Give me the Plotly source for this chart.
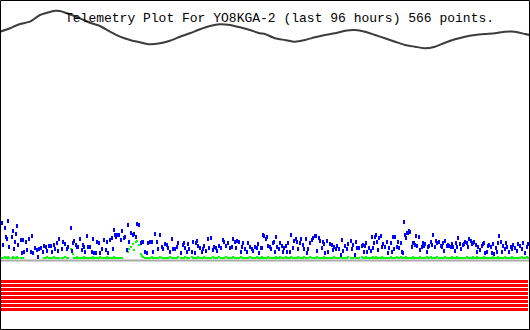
import plotly.graph_objects as go

TITLE = "Telemetry Plot For YO8KGA-2 (last 96 hours) 566 points."

# Time axis position of each packet (plot units) and channel readings
TIMES = [
    2, 3, 5, 6, 7, 8, 9, 12, 13, 14,
    15, 16, 17, 18, 21, 22, 23, 24, 26, 27,
    29, 31, 32, 33, 35, 37, 38, 39, 41, 43,
    44, 46, 47, 49, 51, 52, 54, 55, 57, 58,
    59, 62, 63, 65, 67, 68, 71, 72, 73, 74,
    76, 77, 78, 80, 82, 83, 84, 85, 87, 88,
    90, 92, 93, 94, 96, 97, 99, 100, 102, 104,
    106, 107, 108, 110, 112, 113, 114, 115, 116, 117,
    119, 121, 122, 124, 125, 127, 128, 129, 131, 133,
    134, 136, 137, 139, 141, 142, 143, 145, 147, 148,
    150, 152, 153, 155, 157, 158, 160, 162, 163, 165,
    167, 168, 170, 172, 173, 175, 177, 178, 181, 183,
    184, 185, 187, 188, 189, 192, 193, 195, 196, 197,
    198, 200, 202, 203, 204, 206, 208, 209, 211, 213,
    214, 216, 217, 219, 221, 223, 224, 226, 228, 230,
    232, 233, 235, 236, 237, 239, 241, 242, 243, 245,
    247, 248, 250, 252, 253, 255, 257, 258, 259, 261,
    262, 263, 264, 266, 267, 268, 270, 271, 273, 274,
    275, 276, 277, 279, 280, 282, 283, 284, 286, 287,
    288, 290, 291, 293, 294, 296, 297, 298, 300, 301,
    303, 304, 306, 307, 308, 310, 312, 313, 315, 316,
    317, 319, 320, 322, 323, 324, 325, 327, 328, 330,
    332, 333, 334, 336, 337, 339, 341, 342, 343, 345,
    347, 348, 351, 352, 353, 355, 356, 357, 359, 362,
    363, 364, 365, 366, 367, 369, 371, 372, 373, 374,
    375, 376, 377, 378, 379, 381, 382, 383, 385, 387,
    388, 389, 391, 392, 393, 394, 395, 397, 398, 399,
    401, 402, 403, 404, 405, 406, 407, 408, 409, 410,
    412, 413, 414, 415, 416, 417, 419, 420, 422, 423,
    424, 425, 427, 428, 429, 431, 432, 433, 435, 436,
    437, 439, 441, 442, 443, 444, 445, 447, 448, 449,
    451, 452, 453, 455, 456, 457, 458, 460, 461, 463,
    464, 465, 467, 468, 469, 471, 472, 473, 474, 476,
    477, 478, 480, 482, 483, 484, 485, 487, 488, 489,
    491, 492, 493, 494, 496, 497, 498, 499, 501, 502,
    503, 505, 506, 507, 509, 511, 512, 513, 515, 517,
    518, 520, 522, 523, 525, 527, 528,
]

BLUE = [
    223, 245, 228, 237, 239, 221, 247, 237, 231, 249,
    242, 234, 226, 245, 240, 253, 240, 252, 242, 250,
    239, 252, 236, 253, 248, 250, 257, 249, 248, 252,
    246, 247, 251, 246, 246, 252, 245, 249, 243, 251,
    239, 249, 242, 244, 249, 247, 228, 251, 243, 241,
    245, 247, 247, 239, 250, 245, 247, 252, 236, 247,
    247, 252, 239, 253, 253, 242, 243, 253, 249, 240,
    250, 242, 253, 240, 238, 249, 230, 235, 237, 235,
    235, 240, 231, 238, 237, 250, 225, 242, 233, 235,
    234, 237, 224, 225, 243, 242, 242, 252, 253, 243,
    242, 242, 252, 234, 242, 249, 235, 247, 249, 244,
    245, 248, 252, 239, 249, 249, 247, 243, 253, 245,
    243, 248, 252, 244, 249, 252, 242, 253, 243, 241,
    246, 248, 252, 249, 246, 251, 239, 248, 238, 250,
    247, 248, 251, 246, 248, 240, 242, 246, 243, 248,
    247, 239, 242, 248, 241, 242, 252, 247, 243, 249,
    252, 243, 247, 249, 251, 247, 248, 244, 253, 248,
    248, 235, 236, 239, 237, 246, 247, 249, 243, 242,
    252, 237, 247, 249, 243, 246, 252, 248, 246, 252,
    243, 252, 235, 248, 241, 239, 242, 249, 243, 239,
    245, 249, 239, 253, 249, 243, 240, 238, 236, 236,
    251, 238, 241, 248, 242, 244, 253, 241, 252, 244,
    245, 250, 247, 249, 246, 249, 255, 240, 251, 246,
    249, 244, 241, 249, 245, 255, 242, 248, 248, 246,
    245, 252, 246, 243, 252, 248, 251, 237, 248, 243,
    237, 235, 242, 250, 238, 236, 247, 244, 247, 242,
    253, 248, 243, 252, 237, 249, 237, 247, 242, 248,
    243, 252, 253, 222, 235, 238, 233, 233, 231, 232,
    247, 243, 243, 245, 236, 246, 237, 250, 247, 243,
    246, 244, 252, 247, 246, 242, 245, 235, 247, 241,
    243, 242, 246, 247, 243, 251, 241, 246, 245, 246,
    247, 244, 247, 251, 243, 247, 238, 244, 249, 245,
    244, 242, 243, 247, 239, 241, 244, 243, 242, 245,
    252, 247, 250, 246, 244, 243, 253, 252, 246, 245,
    247, 253, 244, 254, 248, 252, 243, 236, 242, 252,
    246, 249, 243, 247, 252, 247, 249, 245, 248, 251,
    244, 246, 249, 243, 253, 247, 244,
]

N = None
GREEN = [
    258, 258, 257, 258, 258, 257, 258, 258, 257, 258,
    258, 258, 257, 258, 258, 258, 258, N, N, N,
    N, N, N, N, N, N, N, N, N, N,
    258, 258, 257, 258, 258, 258, 257, 258, 258, 258,
    258, 258, 258, 257, 258, 258, 249, 250, 254, 258,
    258, 257, 258, 258, 258, 258, 257, 258, 258, 258,
    258, 258, 257, 258, 258, 258, 258, 257, 258, 258,
    258, 257, 258, 258, 258, 258, 257, 258, 258, 258,
    258, 258, 258, N, N, 251, 252, 249, 247, 244,
    250, 242, 241, 245, 254, 256, 257, 258, 258, 258,
    258, 257, 258, 258, 258, 258, 257, 258, 258, 258,
    258, 258, 257, 258, 258, 258, 258, 257, 258, 258,
    258, 257, 258, 258, 258, 257, 258, 258, 258, 258,
    257, 258, 258, 258, 257, 258, 258, 258, 258, 257,
    258, 258, 258, 257, 258, 258, 258, 257, 258, 258,
    258, 257, 258, 258, 258, 258, 257, 258, 258, 258,
    258, 258, 257, 258, 258, 258, 257, 258, 258, 258,
    257, 258, 258, 258, 258, 257, 258, 258, 258, 258,
    258, 257, 258, 258, 257, 258, 258, 258, 257, 258,
    258, 258, 257, 258, 258, 258, 258, 257, 258, 258,
    258, 257, 258, 258, 258, 257, 258, 258, 258, 258,
    257, 258, 258, 258, 258, 257, 258, 258, 258, 258,
    258, 258, 257, 258, 258, 258, 257, 258, 258, 258,
    258, 257, 258, 258, 258, 257, 258, 258, 258, 257,
    258, 258, 258, 257, 258, 258, 258, 258, 257, 258,
    258, 257, 258, 258, 258, 258, 257, 258, 258, 258,
    258, 258, 257, 258, 258, 258, 258, 257, 258, 258,
    257, 258, 258, 258, 258, 257, 258, 258, 258, 258,
    258, 257, 258, 258, 258, 258, 258, 257, 258, 258,
    258, 258, 257, 258, 258, 257, 258, 258, 258, 258,
    257, 258, 258, 258, 258, 258, 257, 258, 258, 258,
    258, 257, 258, 258, 258, 257, 258, 258, 258, 258,
    258, 258, 257, 258, 258, 258, 258, 257, 258, 258,
    257, 258, 258, 258, 258, 257, 258, 258, 258, 258,
    258, 258, 257, 258, 258, 258, 257, 258, 258, 258,
    258, 257, 258, 258, 258, 258, 257, 258, 258, 258,
    258, 258, 257, 258, 258, 257, 258,
]

# Smooth analog channel (dark line near top)
CURVE_T = [0, 10, 15, 20, 30, 35, 40, 47, 55, 60, 67, 80, 90, 100, 110, 120,
           130, 140, 150, 160, 170, 180, 190, 200, 210, 220, 230, 240, 250,
           260, 265, 275, 285, 295, 305, 315, 325, 335, 345, 355, 365, 375,
           385, 395, 405, 415, 425, 435, 445, 455, 465, 475, 485, 495, 505,
           515, 525, 530]
CURVE_V = [31.7, 28.3, 26, 24, 21.7, 18.3, 15, 12.7, 10.7, 11, 13.3, 18.3,
           22.7, 26, 31.7, 36.7, 40, 42.3, 44.3, 43.3, 40.7, 36.7, 33.3, 29.3,
           26, 24.3, 25, 27.3, 30, 33.3, 34, 38.3, 40, 41.7, 40, 37.3, 35,
           33.3, 30.7, 30, 31.7, 35, 38.3, 41.7, 45, 46.7, 48.3, 46.7, 42.7,
           39.3, 36.7, 35, 34, 33.3, 31.7, 31.7, 34, 35]

# Digital bit channels (all set) and baseline
BIT_LEVELS = [281.5, 285.5, 289.5, 293.5, 297.5, 301.5, 305.5, 309.5]
BIT_SPAN = [1, 528]
BASELINE = 260.5

fig = go.Figure()

for lvl in BIT_LEVELS:
    fig.add_trace(go.Scatter(x=BIT_SPAN, y=[lvl, lvl], mode="lines",
                             line=dict(color="#ff0000", width=3),
                             hoverinfo="skip", showlegend=False))

fig.add_shape(type="line", xref="paper", x0=0, x1=1, y0=BASELINE, y1=BASELINE,
              line=dict(color="#aaaaaa", width=2))

fig.add_trace(go.Scatter(x=TIMES, y=GREEN, mode="markers",
                         marker=dict(symbol="square", size=2, color="#00ff00",
                                     line=dict(width=0)),
                         showlegend=False))
fig.add_trace(go.Scatter(x=TIMES, y=BLUE, mode="markers",
                         marker=dict(symbol="line-ns", size=3, color="#0000ff",
                                     line=dict(width=2, color="#0000ff")),
                         showlegend=False))
fig.add_trace(go.Scatter(x=CURVE_T, y=CURVE_V, mode="lines",
                         line=dict(color="#3c3c3c", width=2, shape="spline",
                                   smoothing=0.6),
                         showlegend=False))

fig.add_shape(type="rect", x0=0.5, x1=529.5, y0=0.5, y1=329.5,
              line=dict(color="#000000", width=1))

fig.add_annotation(x=279, y=18, xref="x", yref="y", text=TITLE,
                   showarrow=False, xanchor="center", yanchor="middle",
                   font=dict(family="Liberation Mono", size=13, color="#000000"))

fig.update_layout(
    width=530, height=330,
    margin=dict(l=0, r=0, t=0, b=0),
    paper_bgcolor="#ffffff", plot_bgcolor="#ffffff",
    xaxis=dict(range=[0, 530], visible=False, fixedrange=True),
    yaxis=dict(range=[330, 0], visible=False, fixedrange=True),
    showlegend=False,
)

fig.write_html("out.html", config={"displayModeBar": False})
